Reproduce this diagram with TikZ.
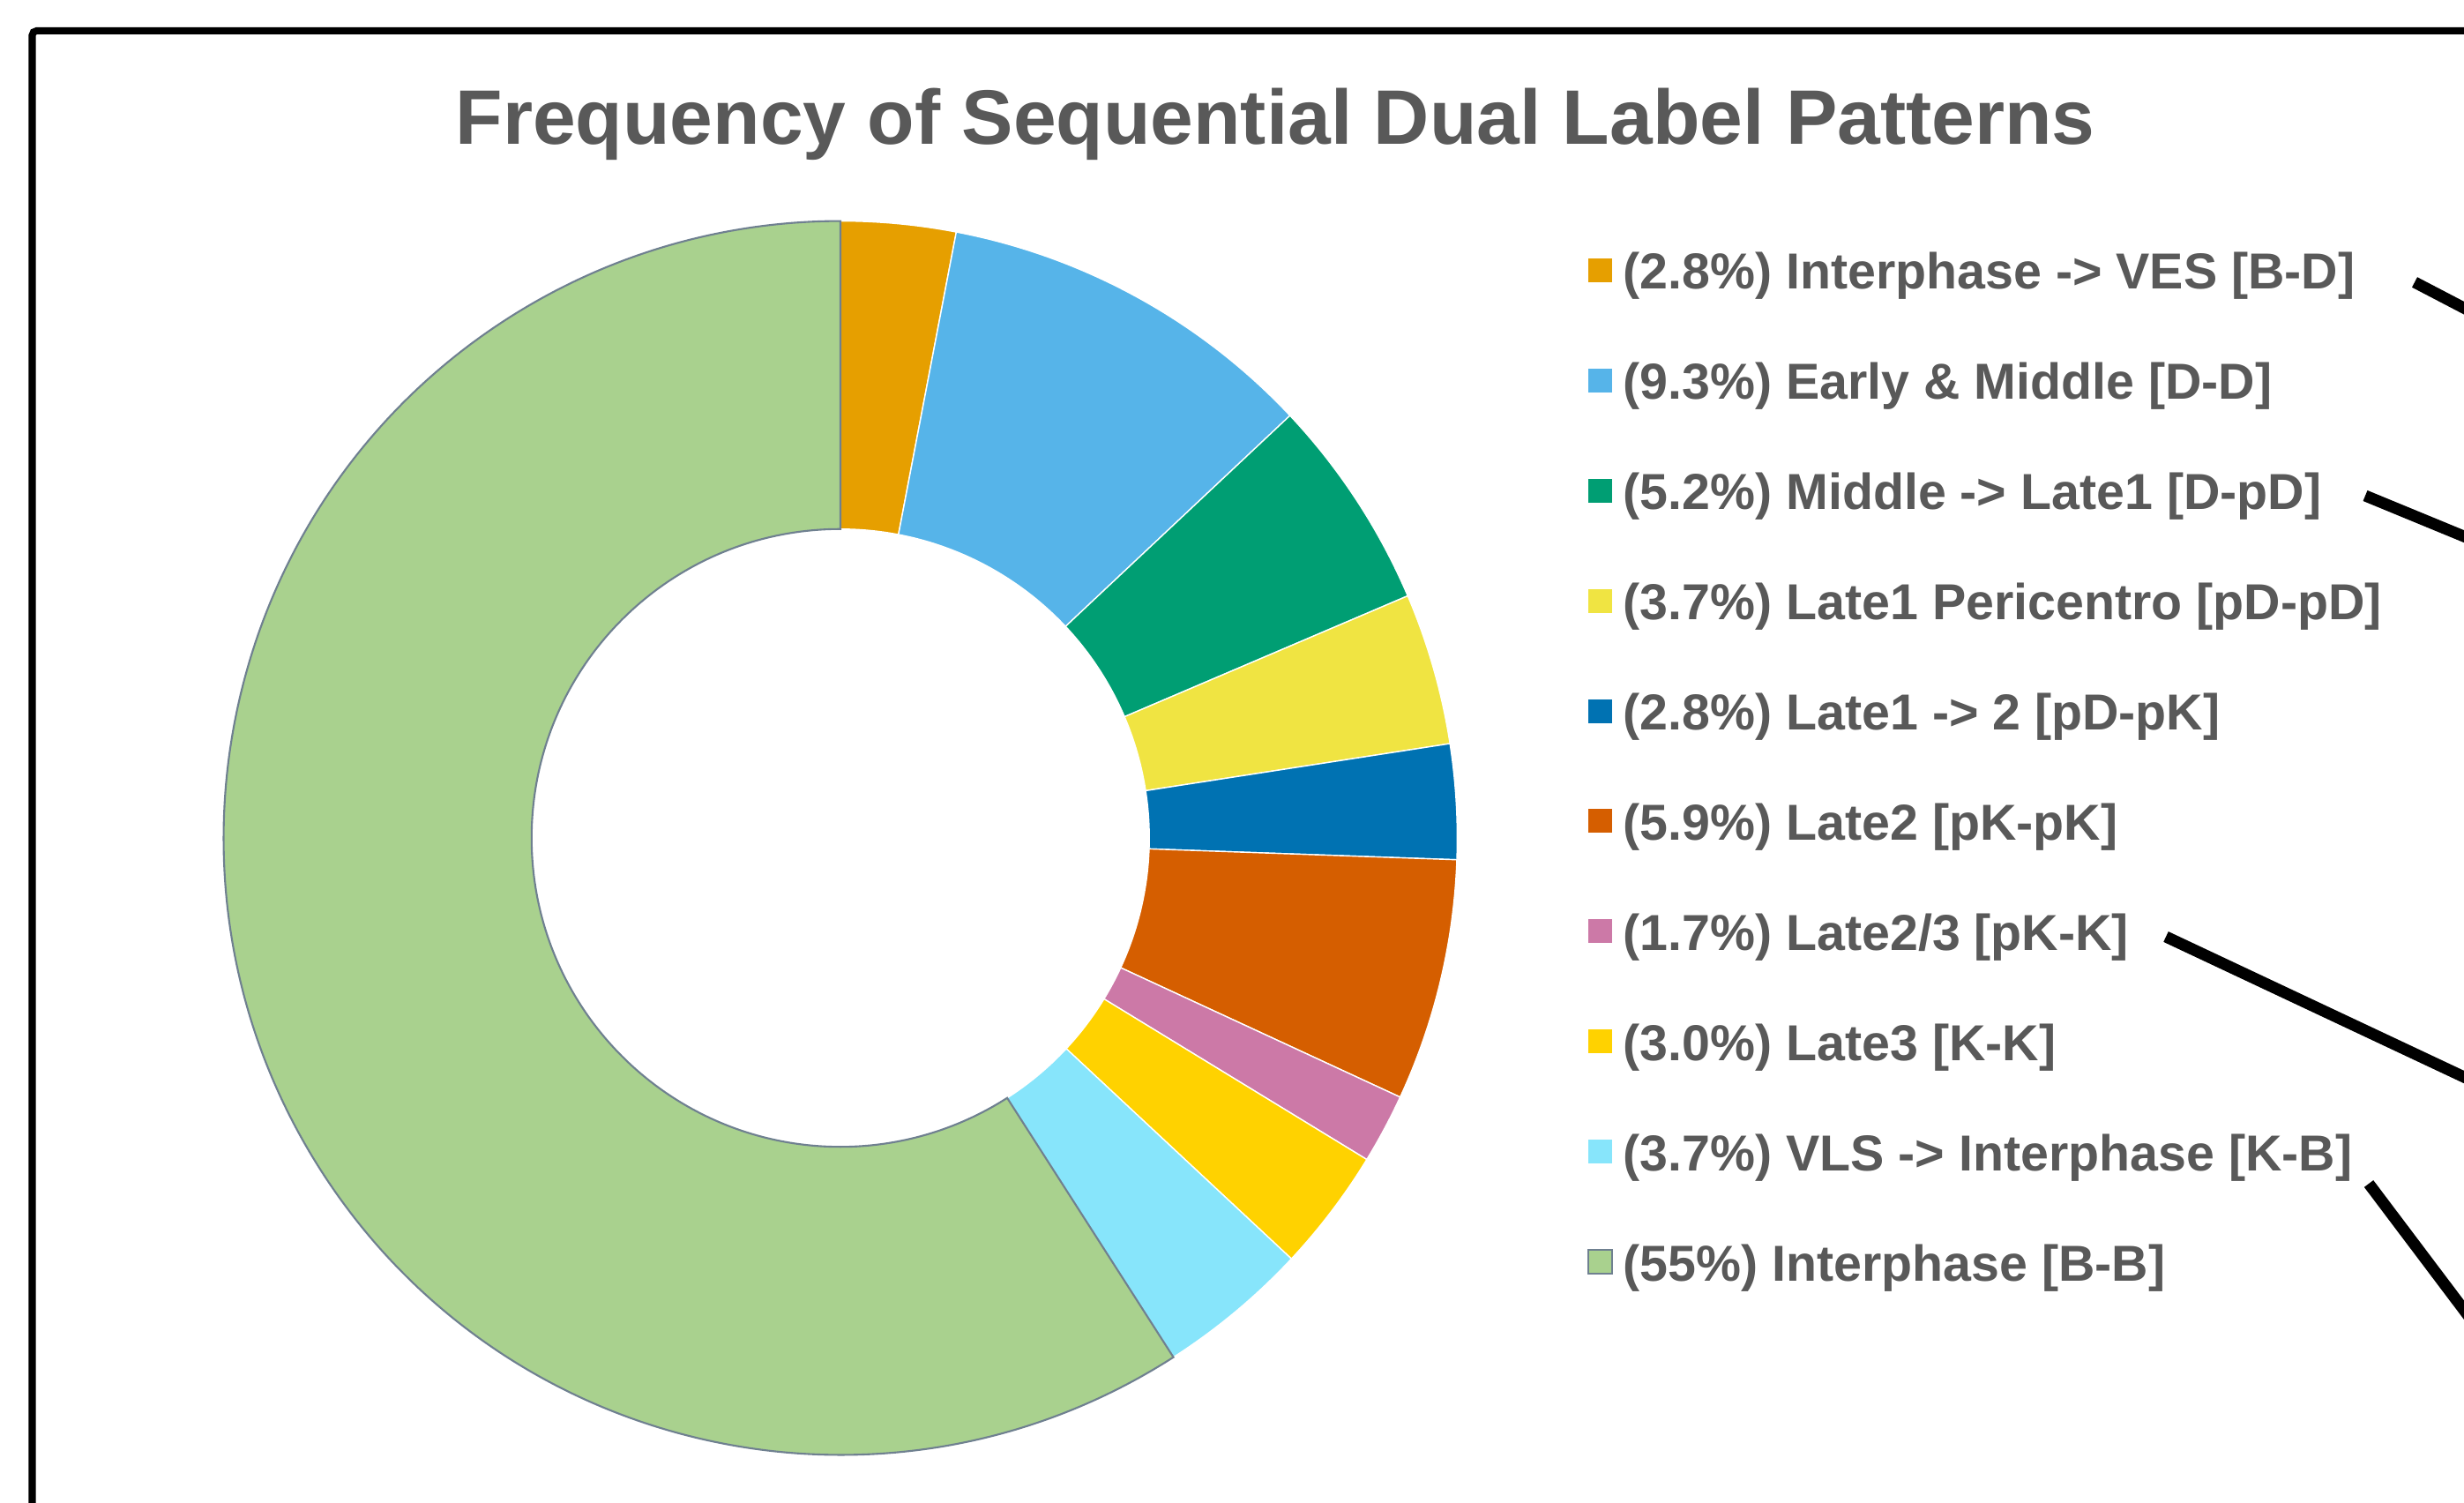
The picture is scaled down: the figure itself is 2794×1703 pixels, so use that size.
\documentclass[tikz,border=0pt]{standalone}
\usepackage{fontspec}
\setmainfont{Liberation Sans}
\usetikzlibrary{calc}
\definecolor{txtgray}{HTML}{595959}
\definecolor{cOrange}{HTML}{E69F00}
\definecolor{cSky}{HTML}{56B4E9}
\definecolor{cGreen}{HTML}{009E73}
\definecolor{cYellow}{HTML}{F0E442}
\definecolor{cBlue}{HTML}{0072B2}
\definecolor{cVerm}{HTML}{D55E00}
\definecolor{cPink}{HTML}{CC79A7}
\definecolor{cGold}{HTML}{FFD200}
\definecolor{cCyan}{HTML}{87E5FB}
\definecolor{cLgreen}{HTML}{A9D18E}
\definecolor{cEdge}{HTML}{6F8090}
\newcommand{\dslice}[3]{%
  \path[#3] ([shift={(#1:6.99cm)}]ctr) arc[start angle=#1, end angle=#2, radius=6.99cm]
    -- ([shift={(#2:3.5cm)}]ctr) arc[start angle=#2, end angle=#1, radius=3.5cm] -- cycle;}
\tikzset{
  slicew/.style={fill=#1, draw=white, line width=0.4pt},
  legtext/.style={anchor=base west, inner sep=0pt, text=txtgray,
    font=\fontsize{16.3}{19}\selectfont\bfseries},
  legsq/.style={fill=#1, minimum size=0.27cm, inner sep=0pt, anchor=west},
  pointer/.style={line width=0.13cm, draw=black},
}
\begin{document}
\begin{tikzpicture}[x=0.01cm, y=0.01cm]
\useasboundingbox (0,0) rectangle (2794,1703);
\clip (0,0) rectangle (2794,1703);
\fill[white] (0,0) rectangle (2794,1703);
% frame
\draw[line width=0.08cm, rounded corners=0.05cm] (36.5,1668) rectangle (2950,-150);
% title
\node[anchor=base, inner sep=0pt, text=txtgray, font=\fontsize{24.9}{30}\selectfont\bfseries]
  (title) at (1446,1539) {Frequency of Sequential Dual Label Patterns};
% donut
\coordinate (ctr) at (953,753);
\dslice{90}{79.173}{slicew=cOrange}
\dslice{79.173}{43.211}{slicew=cSky}
\dslice{43.211}{23.104}{slicew=cGreen}
\dslice{23.104}{8.797}{slicew=cYellow}
\dslice{8.797}{-2.030}{slicew=cBlue}
\dslice{-2.030}{-24.844}{slicew=cVerm}
\dslice{-24.844}{-31.418}{slicew=cPink}
\dslice{-31.418}{-43.018}{slicew=cGold}
\dslice{-43.018}{-57.325}{slicew=cCyan}
\dslice{-57.325}{-270}{fill=cLgreen, draw=cEdge, line width=0.6pt}
% legend
\node[legsq=cOrange] (sq1) at (1800,1396.5) {};
\node[legsq=cSky] (sq2) at (1800,1271.6) {};
\node[legsq=cGreen] (sq3) at (1800,1146.7) {};
\node[legsq=cYellow] (sq4) at (1800,1021.8) {};
\node[legsq=cBlue] (sq5) at (1800,896.9) {};
\node[legsq=cVerm] (sq6) at (1800,772.0) {};
\node[legsq=cPink] (sq7) at (1800,647.1) {};
\node[legsq=cGold] (sq8) at (1800,522.2) {};
\node[legsq=cCyan] (sq9) at (1800,397.3) {};
\node[legsq=cLgreen, draw=cEdge, line width=0.5pt] (sq10) at (1800,272.4) {};
\node[legtext] (leg1) at (1840,1375.0) {(2.8\%) Interphase -> VES [B-D]};
\node[legtext] (leg2) at (1840,1250.1) {(9.3\%) Early \& Middle [D-D]};
\node[legtext] (leg3) at (1840,1125.2) {(5.2\%) Middle -> Late1 [D-pD]};
\node[legtext] (leg4) at (1840,1000.3) {(3.7\%) Late1 Pericentro [pD-pD]};
\node[legtext] (leg5) at (1840,875.4) {(2.8\%) Late1 -> 2 [pD-pK]};
\node[legtext] (leg6) at (1840,750.5) {(5.9\%) Late2 [pK-pK]};
\node[legtext] (leg7) at (1840,625.6) {(1.7\%) Late2/3 [pK-K]};
\node[legtext] (leg8) at (1840,500.7) {(3.0\%) Late3 [K-K]};
\node[legtext] (leg9) at (1840,375.8) {(3.7\%) VLS -> Interphase [K-B]};
\node[legtext] (leg10) at (1840,250.9) {(55\%) Interphase [B-B]};
% pointer lines running off the right edge
\coordinate (p1s) at (2738,1383);
\coordinate (p1e) at (2830,1335);
\coordinate (p2s) at (2682,1141);
\coordinate (p2e) at (2830,1080);
\coordinate (p3s) at (2456,641);
\coordinate (p3e) at (2830,465);
\coordinate (p4s) at (2686,361);
\coordinate (p4e) at (2830,170);
\draw[pointer] (p1s) -- (p1e);
\draw[pointer] (p2s) -- (p2e);
\draw[pointer] (p3s) -- (p3e);
\draw[pointer] (p4s) -- (p4e);
\end{tikzpicture}
\end{document}
